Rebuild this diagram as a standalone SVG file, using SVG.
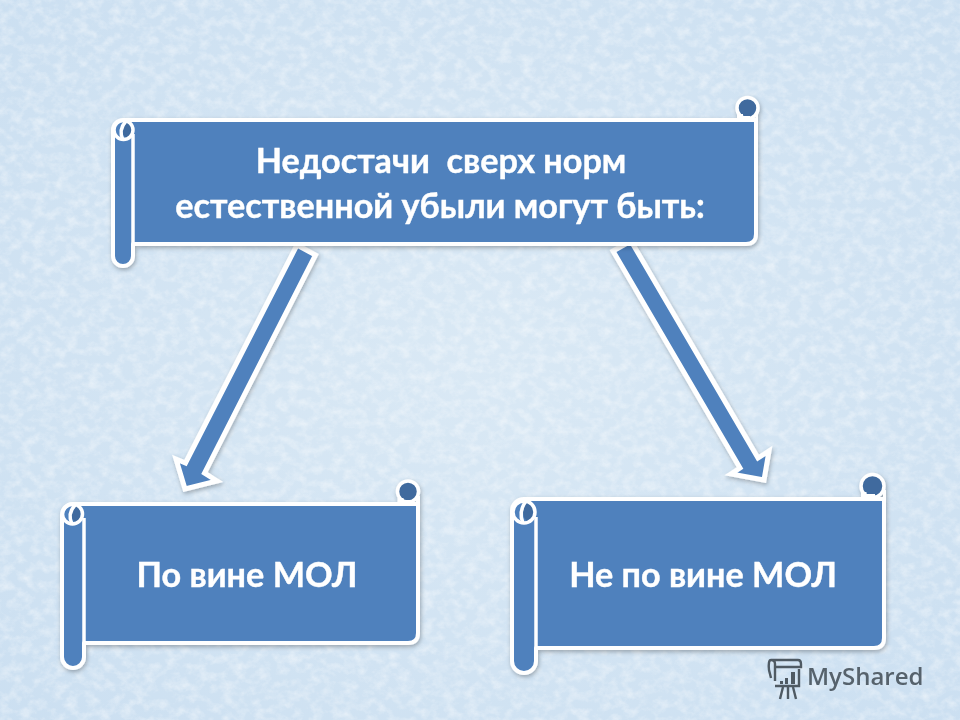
<svg xmlns="http://www.w3.org/2000/svg" width="960" height="720" viewBox="0 0 960 720">
<style>
.b{fill:#4f81bd;stroke:#fff;stroke-width:4;stroke-linejoin:round}
.a{fill:#4f81bd;stroke:#fff;stroke-width:5;stroke-linejoin:miter}
.c{fill:#3f6a9e;stroke:#fff;stroke-width:3.5}
.n{fill:#fff}
.d{fill:#3f6a9e}
.l{fill:none;stroke:#fff;stroke-width:3.5}
.t{font-family:"Lato","Open Sans","Noto Sans",sans-serif;font-weight:700;fill:#fff;text-anchor:middle;font-size:34.200px;stroke:#fff;stroke-width:0.4}
.g{fill:none;stroke:#4f5a63;stroke-width:2.4}
</style>
<defs>
<radialGradient id="bg" cx="50%" cy="50%" r="72%"><stop offset="0" stop-color="#dae9f5"/><stop offset="1" stop-color="#cbdff1"/></radialGradient>
<filter id="tex" x="0" y="0" width="100%" height="100%"><feTurbulence type="fractalNoise" baseFrequency="0.09 0.11" numOctaves="4" seed="7"/><feColorMatrix values="0 0 0 0 1  0 0 0 0 1  0 0 0 0 1  1.8 0 0 0 -0.72"/></filter>
<filter id="sh" x="-10%" y="-10%" width="120%" height="125%"><feDropShadow dx="1" dy="2" stdDeviation="2" flood-color="#000" flood-opacity="0.28"/></filter>
<filter id="soft" x="-5%" y="-5%" width="110%" height="110%"><feGaussianBlur stdDeviation="0.5"/></filter>
</defs>
<rect width="960" height="720" fill="url(#bg)"/>
<rect width="960" height="720" filter="url(#tex)" opacity="0.5"/>
<g id="connectors" filter="url(#sh)">
<path class="a" d="M297,245 L315.500,255 L204.500,473 L217,481 L185,489 L176,459 L185.500,463 Z"/>
<path class="a" d="M613,251 L631,241 L758,458 L769,451 L764,480 L731,474 L740,468 Z"/>
</g>
<g id="n1" filter="url(#sh)">
<circle class="c" cx="747.500" cy="108" r="10.500"/>
<path class="n" d="M737,114 H743 V116 H750 V122 H737 Z M755.500,112 H758 V122 H755.500 Z"/>
<path class="b" d="M124,120 H756 V234 Q756,244 746,244 H133 V256 A10,10 0 0 1 113,256 V130 A10,10 0 0 1 123,120 Z"/>
<ellipse class="d" cx="127" cy="130" rx="4.500" ry="8"/>
<circle class="l" cx="123.500" cy="130" r="9.500"/>
<path class="l" d="M123,140 Q118,130 126,121"/>
<path class="l" d="M133,134 V244"/>
<text class="t" x="441" y="173" xml:space="preserve">Недостачи  сверх норм</text>
<text class="t" x="440" y="218">естественной убыли могут быть:</text>
</g>
<g id="n2" filter="url(#sh)">
<circle class="c" cx="408" cy="491.500" r="10.500"/>
<path class="n" d="M397.500,498 H403.500 V500 H411 V506 H397.500 Z M416,496 H420 V506 H416 Z"/>
<path class="b" d="M72,504 H418 V633 Q418,643 408,643 H84 V657 A11,11 0 0 1 62,657 V515 A11,11 0 0 1 73,504 Z"/>
<ellipse class="d" cx="76" cy="514" rx="4.500" ry="8"/>
<circle class="l" cx="72.500" cy="514" r="10"/>
<path class="l" d="M72,524 Q67,514 75,505"/>
<path class="l" d="M84,518 V643"/>
<text class="t" x="247" y="587">По вине МОЛ</text>
</g>
<g id="n3" filter="url(#sh)">
<circle class="c" cx="872.500" cy="486" r="11.500"/>
<path class="n" d="M861,492 H866.500 V494 H875 V501 H861 Z M883,490 H886 V501 H883 Z"/>
<path class="b" d="M523,499 H884 V638 Q884,648 874,648 H536 V661 A12,12 0 0 1 512,661 V511 A12,12 0 0 1 524,499 Z"/>
<ellipse class="d" cx="528" cy="512" rx="5" ry="9"/>
<circle class="l" cx="524" cy="512" r="11"/>
<path class="l" d="M523,523 Q518,512 526,501"/>
<path class="l" d="M536,517 V648"/>
<text class="t" x="703" y="587">Не по вине МОЛ</text>
</g>
<g id="logo" filter="url(#soft)">
<path class="g" d="M775,681 V664 Q775,660 771,660 H798 Q801,660 801,664 V667 H775 M771,660 Q768,660 769,670 L771,678 M775,686 H799 V669"/>
<path d="M780,681h3v3h-3zM785,678h3v6h-3zM791,672h4v12h-4z" fill="#4f5a63"/>
<path class="g" d="M783,687 L780,699 M788,687 V699 M793,687 L796,699"/>
<text x="807" y="685" font-family="'Open Sans','Noto Sans',sans-serif" font-size="24" font-weight="600" fill="#56626c">MyShared</text>
</g>
</svg>
